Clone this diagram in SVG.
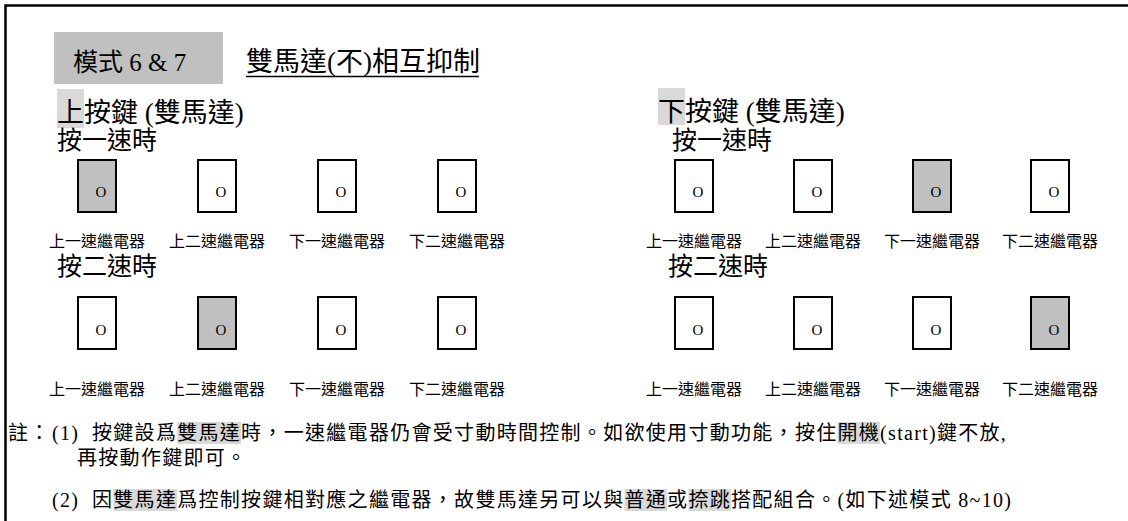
<svg xmlns="http://www.w3.org/2000/svg" width="1128" height="521" viewBox="0 0 1128 521">
<style>
text{font-family:"Liberation Serif","Noto Sans CJK TC","Noto Sans CJK SC",serif;fill:#000}
.big{font-size:27px}
.sub{font-size:25px}
.lbl{font-size:16px;text-anchor:middle}
.o{font-size:15px;text-anchor:middle}
.note{font-size:20px;letter-spacing:1.3px}
.relay{stroke:#000;stroke-width:2;fill:#fff}
.on{fill:#c0c0c0}
.hl{fill:#d9d9d9}
</style>
<defs>
<g id="relay"><rect class="relay" x="0" y="0" width="38" height="52"/></g>
</defs>
<rect x="5.5" y="5.5" width="1300" height="700" fill="#fff" stroke="#000" stroke-width="2.5"/>
<g id="title">
<rect x="54" y="32" width="169" height="52" fill="#c0c0c0"/>
<text x="73" y="71" style="font-size:25px">模式 6 &amp; 7</text>
<text x="246" y="71" style="font-size:27px">雙馬達(不)相互抑制</text>
<line x1="246" y1="76.5" x2="479" y2="76.5" stroke="#000" stroke-width="1.5"/>
</g>
<g id="left-header">
<rect class="hl" x="57" y="89" width="27" height="39"/>
<text class="big" x="57" y="122">上按鍵 (雙馬達)</text>
<text class="sub" x="57" y="149">按一速時</text>
<text class="sub" x="57" y="275">按二速時</text>
</g>
<g id="right-header">
<rect class="hl" x="658" y="88" width="27" height="37"/>
<text class="big" x="658" y="121">下按鍵 (雙馬達)</text>
<text class="sub" x="672" y="149">按一速時</text>
<text class="sub" x="668" y="275">按二速時</text>
</g>
<g id="left-speed1">
<rect class="relay on" x="78" y="160" width="38" height="52"/><text class="o" x="101" y="197">O</text><text class="lbl" x="97" y="247">上一速繼電器</text>
<rect class="relay" x="198" y="160" width="38" height="52"/><text class="o" x="221" y="197">O</text><text class="lbl" x="217" y="247">上二速繼電器</text>
<rect class="relay" x="318" y="160" width="38" height="52"/><text class="o" x="341" y="197">O</text><text class="lbl" x="337" y="247">下一速繼電器</text>
<rect class="relay" x="438" y="160" width="38" height="52"/><text class="o" x="461" y="197">O</text><text class="lbl" x="457" y="247">下二速繼電器</text>
</g>
<g id="left-speed2">
<rect class="relay" x="78" y="297" width="38" height="52"/><text class="o" x="101" y="335">O</text><text class="lbl" x="97" y="395">上一速繼電器</text>
<rect class="relay on" x="198" y="297" width="38" height="52"/><text class="o" x="221" y="335">O</text><text class="lbl" x="217" y="395">上二速繼電器</text>
<rect class="relay" x="318" y="297" width="38" height="52"/><text class="o" x="341" y="335">O</text><text class="lbl" x="337" y="395">下一速繼電器</text>
<rect class="relay" x="438" y="297" width="38" height="52"/><text class="o" x="461" y="335">O</text><text class="lbl" x="457" y="395">下二速繼電器</text>
</g>
<g id="right-speed1">
<rect class="relay" x="675" y="160" width="38" height="52"/><text class="o" x="698" y="197">O</text><text class="lbl" x="694" y="247">上一速繼電器</text>
<rect class="relay" x="794" y="160" width="38" height="52"/><text class="o" x="817" y="197">O</text><text class="lbl" x="813" y="247">上二速繼電器</text>
<rect class="relay on" x="913" y="160" width="38" height="52"/><text class="o" x="936" y="197">O</text><text class="lbl" x="932" y="247">下一速繼電器</text>
<rect class="relay" x="1031" y="160" width="38" height="52"/><text class="o" x="1054" y="197">O</text><text class="lbl" x="1050" y="247">下二速繼電器</text>
</g>
<g id="right-speed2">
<rect class="relay" x="675" y="297" width="38" height="52"/><text class="o" x="698" y="335">O</text><text class="lbl" x="694" y="395">上一速繼電器</text>
<rect class="relay" x="794" y="297" width="38" height="52"/><text class="o" x="817" y="335">O</text><text class="lbl" x="813" y="395">上二速繼電器</text>
<rect class="relay" x="913" y="297" width="38" height="52"/><text class="o" x="936" y="335">O</text><text class="lbl" x="932" y="395">下一速繼電器</text>
<rect class="relay on" x="1031" y="297" width="38" height="52"/><text class="o" x="1054" y="335">O</text><text class="lbl" x="1050" y="395">下二速繼電器</text>
</g>
<g id="notes">
<rect class="hl" x="177.2" y="422" width="63.9" height="22"/>
<rect class="hl" x="837.5" y="422" width="42.6" height="22"/>
<rect class="hl" x="113.3" y="489" width="63.9" height="22"/>
<rect class="hl" x="624.5" y="489" width="42.6" height="22"/>
<rect class="hl" x="688.4" y="489" width="42.6" height="22"/>
<text class="note" y="440"><tspan x="8">註：</tspan><tspan x="52">(1)</tspan><tspan x="92">按鍵設爲</tspan><tspan x="177.2">雙馬達</tspan><tspan x="241.1">時，一速繼電器仍會受寸動時間控制。如欲使用寸動功能，按住</tspan><tspan x="837.5">開機</tspan><tspan x="880.1">(start)鍵不放,</tspan></text>
<text class="note" x="77" y="465">再按動作鍵即可。</text>
<text class="note" y="507"><tspan x="52">(2)</tspan><tspan x="92">因</tspan><tspan x="113.3">雙馬達</tspan><tspan x="177.2">爲控制按鍵相對應之繼電器，故雙馬達另可以與</tspan><tspan x="624.5">普通</tspan><tspan x="667.1">或</tspan><tspan x="688.4">捺跳</tspan><tspan x="731">搭配組合。(如下述模式 8~10)</tspan></text>
</g>
</svg>
